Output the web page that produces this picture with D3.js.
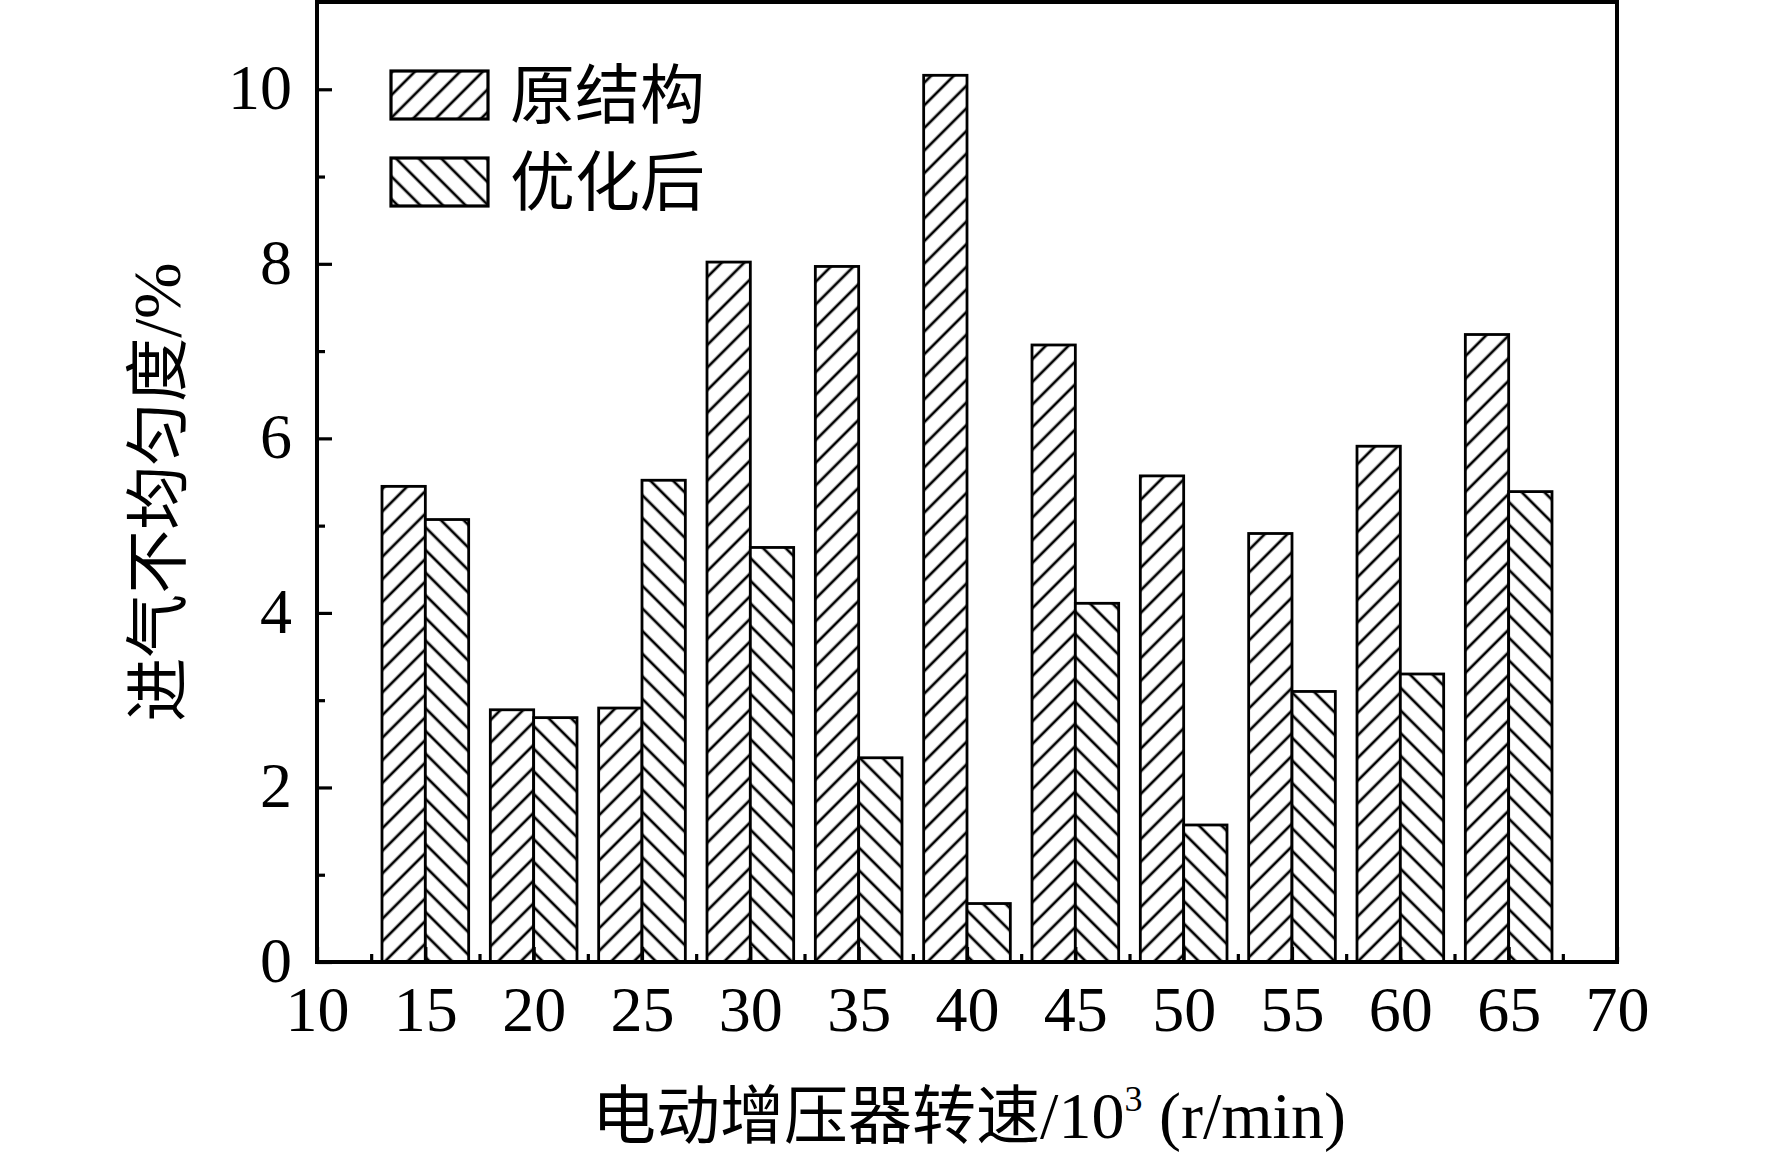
<!DOCTYPE html>
<html><head><meta charset="utf-8">
<script src="https://cdn.jsdelivr.net/npm/d3@7/dist/d3.min.js"></script>
<style>body{margin:0;background:#fff}svg{display:block}</style>
</head><body>
<svg id="c" width="1772" height="1155"></svg>
<script>
const speeds = [15,20,25,30,35,40,45,50,55,60,65];
const original = [5.45,2.89,2.91,8.02,7.97,10.16,7.07,5.57,4.91,5.91,7.19];
const optimized = [5.07,2.80,5.52,4.75,2.34,0.67,4.11,1.57,3.10,3.30,5.39];
const seriesNames = ["原结构","优化后"];
const xTicks = [10,15,20,25,30,35,40,45,50,55,60,65,70];
const yTicks = [0,2,4,6,8,10];
const xTitle = "电动增压器转速/10";
const yTitle = "进气不均匀度/%";

const svg = d3.select("#c");
const L=317, R=1617, T=2, B=962;
const x = d3.scaleLinear().domain([10,70]).range([L,R]);
const y = d3.scaleLinear().domain([0,11]).range([B,T]);
const barW = 2; // in data units

const defs = svg.append("defs");
function hatch(id, angle){
  const s = 16;
  const p = defs.append("pattern").attr("id",id).attr("patternUnits","userSpaceOnUse")
    .attr("width",s).attr("height",s).attr("patternTransform",`rotate(${angle})`);
  p.append("rect").attr("width",s).attr("height",s).attr("fill","#fff");
  p.append("line").attr("x1",s/2).attr("y1",-2).attr("x2",s/2).attr("y2",s+2)
    .attr("stroke","#000").attr("stroke-width",2.7);
}
hatch("h1",45);
hatch("h2",-45);

const serif = "'Liberation Serif','Times New Roman',serif";
const cjk = "'Noto Sans CJK SC','Noto Sans CJK JP',sans-serif";

// bars
const g = svg.append("g");
g.selectAll("rect.o").data(speeds).join("rect").attr("class","o")
  .attr("x",d=>x(d-barW)).attr("width",d=>x(d)-x(d-barW))
  .attr("y",(d,i)=>y(original[i])).attr("height",(d,i)=>y(0)-y(original[i]))
  .attr("fill","url(#h1)").attr("stroke","#000").attr("stroke-width",2.8);
g.selectAll("rect.p").data(speeds).join("rect").attr("class","p")
  .attr("x",d=>x(d)).attr("width",d=>x(d+barW)-x(d))
  .attr("y",(d,i)=>y(optimized[i])).attr("height",(d,i)=>y(0)-y(optimized[i]))
  .attr("fill","url(#h2)").attr("stroke","#000").attr("stroke-width",2.8);

// axes
const xAxis = svg.append("g").attr("transform",`translate(0,${B})`)
  .call(d3.axisBottom(x).tickValues(xTicks).tickSizeInner(-15).tickSizeOuter(0).tickPadding(24).tickFormat(d3.format("d")));
const xMinor = svg.append("g").attr("transform",`translate(0,${B})`)
  .call(d3.axisBottom(x).tickValues(d3.range(12.5,70,5)).tickSizeInner(-8).tickSizeOuter(0).tickFormat(""));
const yAxis = svg.append("g").attr("transform",`translate(${L},0)`)
  .call(d3.axisLeft(y).tickValues(yTicks).tickSizeInner(-15).tickSizeOuter(0).tickPadding(25).tickFormat(d3.format("d")));
const yMinor = svg.append("g").attr("transform",`translate(${L},0)`)
  .call(d3.axisLeft(y).tickValues(d3.range(1,11,2)).tickSizeInner(-8).tickSizeOuter(0).tickFormat(""));
[xAxis,xMinor,yAxis,yMinor].forEach(a=>{
  a.select(".domain").remove();
  a.selectAll(".tick line").attr("stroke","#000").attr("stroke-width",3.2);
  a.selectAll("text").attr("font-family",serif).attr("font-size",64).attr("fill","#000");
});
yAxis.selectAll("text").attr("dy","0.3em");

// frame
svg.append("rect").attr("x",L).attr("y",T).attr("width",R-L).attr("height",B-T)
  .attr("fill","none").attr("stroke","#000").attr("stroke-width",4);

// legend
const leg = svg.append("g");
const legY = [71,158];
seriesNames.forEach((n,i)=>{
  leg.append("rect").attr("x",391).attr("y",legY[i]).attr("width",97).attr("height",48)
    .attr("fill",i===0?"url(#h1)":"url(#h2)").attr("stroke","#000").attr("stroke-width",3.2);
  leg.append("text").attr("x",510).attr("y",legY[i]+24).attr("dy","0.36em")
    .attr("font-family",cjk).attr("font-size",65).attr("fill","#000").text(n);
});

// axis titles
const xt = svg.append("text").attr("x",969).attr("y",1138).attr("text-anchor","middle")
  .attr("font-size",64).attr("fill","#000");
xt.append("tspan").attr("font-family",cjk).text(xTitle.slice(0,7));
xt.append("tspan").attr("font-family",serif).attr("font-size",66).text(xTitle.slice(7));
xt.append("tspan").attr("font-family",serif).attr("font-size",36).attr("dy",-27).text("3");
xt.append("tspan").attr("font-family",serif).attr("font-size",66).attr("dy",27).text(" (r/min)");

const yt = svg.append("text").attr("transform","translate(180,492) rotate(-90)").attr("text-anchor","middle")
  .attr("font-size",64).attr("fill","#000");
yt.append("tspan").attr("font-family",cjk).text(yTitle.slice(0,6));
yt.append("tspan").attr("font-family",serif).attr("font-size",68).text(yTitle.slice(6));
</script>
</body></html>
